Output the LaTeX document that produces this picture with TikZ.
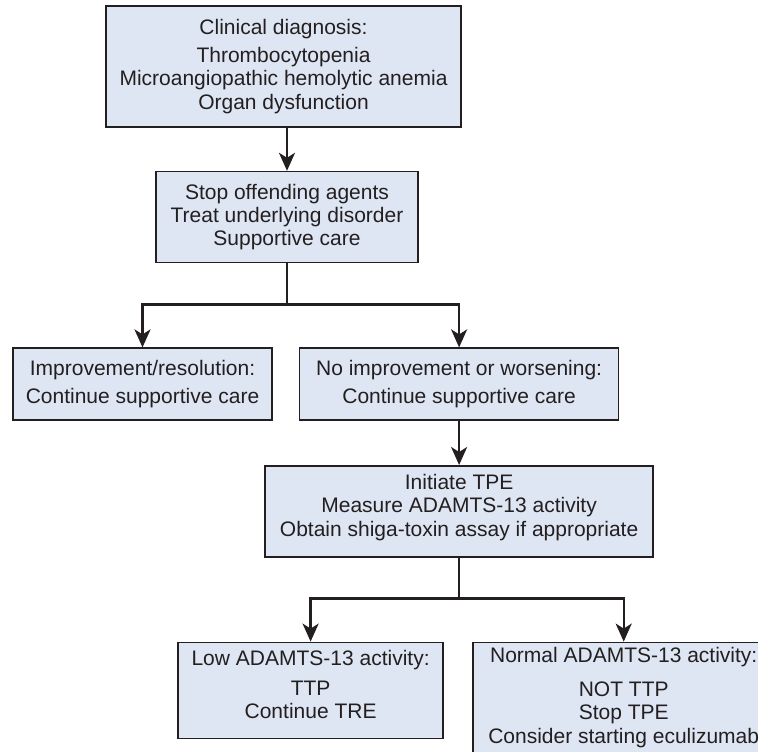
\documentclass[tikz,border=0pt]{standalone}
\usepackage{fontspec}
\setmainfont{Liberation Sans}
\usetikzlibrary{arrows.meta, positioning}
\definecolor{cBox}{RGB}{223,230,243}
\definecolor{cLine}{RGB}{35,31,32}

\begin{document}
\begin{tikzpicture}[
      s/.style={draw=cLine, fill=cBox, line width=0.8pt, text=cLine,
                font=\fontsize{10.5pt}{11.7pt}\selectfont, align=center, inner sep=0pt},
      >={Stealth[length=9pt, width=8pt, inset=2.5pt]}, line width=1.2pt, cLine]
    \useasboundingbox (0,0) rectangle (379pt,-375.5pt);
    \node[s, minimum width=177.5pt, minimum height=60.5pt] (diag) at (141.75pt,-33.25pt)
      {Clinical diagnosis:\\[2.3pt] Thrombocytopenia\\ Microangiopathic hemolytic anemia\\ Organ dysfunction};
    \node[s, minimum width=131pt, minimum height=45.5pt, below=21.5pt of diag, xshift=1.75pt] (stop)
      {Stop offending agents\\ Treat underlying disorder\\ Supportive care};
    \node[s, minimum width=129.5pt, minimum height=36pt, below=42pt of stop, xshift=-72.25pt] (impr)
      {Improvement/resolution:\\[2.3pt] Continue supportive care};
    \node[s, minimum width=159.5pt, minimum height=36pt, right=13pt of impr] (worse)
      {No improvement or worsening:\\[2.3pt] Continue supportive care};
    \node[s, minimum width=194pt, minimum height=45.5pt, text depth=6.2pt, below=22pt of worse] (tpe)
      {Initiate TPE\\ Measure ADAMTS-13 activity\\ Obtain shiga-toxin assay if appropriate};
    \node[s, minimum width=132.5pt, minimum height=48pt, text depth=6pt, below=42pt of tpe, xshift=-74.25pt] (low)
      {Low ADAMTS-13 activity:\\[3.3pt] TTP\\ Continue TRE};
    \node[s, minimum width=151pt, minimum height=60pt, text depth=7pt, anchor=north west] (normal) at ([xshift=14pt]low.north east)
      {Normal ADAMTS-13 activity:\\[5pt] NOT TTP\\ Stop TPE\\ Consider starting eculizumab};
    \coordinate[below=20.5pt of stop.south] (j1);
    \coordinate[below=20.5pt of tpe.south] (j2);
    \draw[->](diag.south -| stop)--(stop);
    \draw(stop)--(j1);\draw[->](j1)-|(impr);\draw[->](j1)-|(worse);
    \draw[->](worse)--(tpe);
    \draw(tpe)--(j2);\draw[->](j2)-|(low);\draw[->](j2)-|(normal);
  \end{tikzpicture}
\end{document}
